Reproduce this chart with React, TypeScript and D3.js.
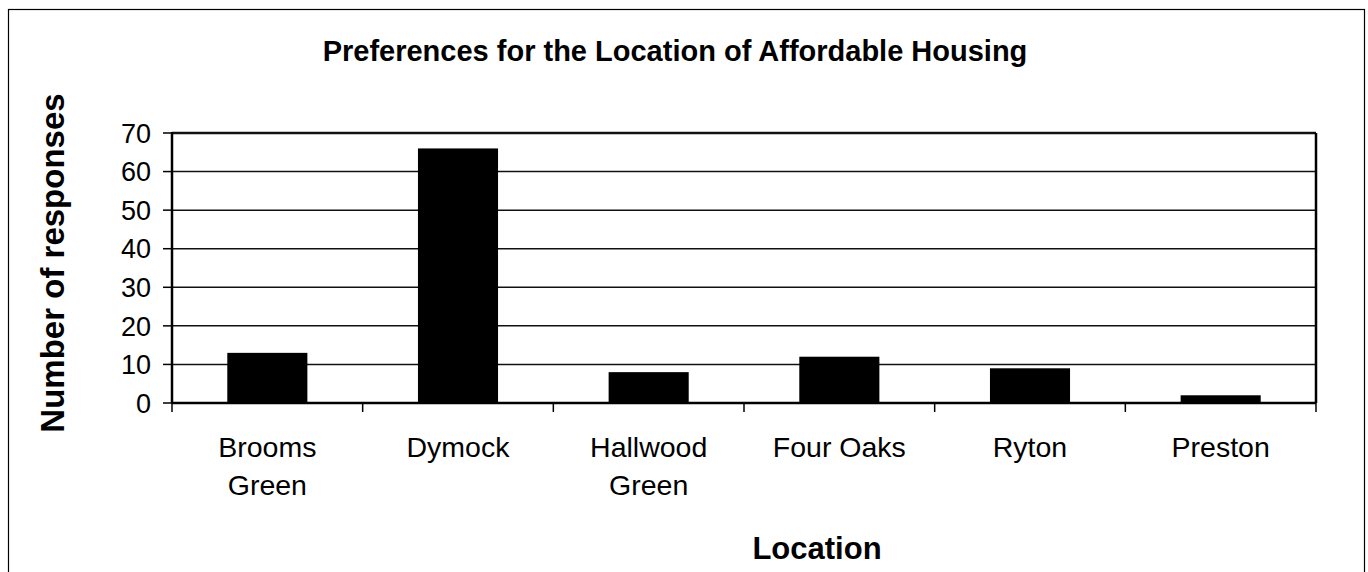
import React from "react";
import * as d3 from "d3";

const categories: string[][] = [
  ["Brooms", "Green"],
  ["Dymock"],
  ["Hallwood", "Green"],
  ["Four Oaks"],
  ["Ryton"],
  ["Preston"],
];
const values: number[] = [13, 66, 8, 12, 9, 2];
const yTicks: number[] = [0, 10, 20, 30, 40, 50, 60, 70];
const title = "Preferences for the Location of Affordable Housing";
const yTitle = "Number of responses";
const xTitle = "Location";

const W = 1368;
const H = 572;
const left = 172;
const right = 1316;
const top = 133;
const bottom = 403;
const FONT = "'Liberation Sans', Arial, Helvetica, sans-serif";

export default function App() {
  const x = d3
    .scaleBand<number>()
    .domain(d3.range(values.length))
    .range([left, right])
    .paddingInner(0.58)
    .paddingOuter(0.29);
  const band = d3.scaleBand<number>().domain(d3.range(values.length)).range([left, right]);
  const y = d3.scaleLinear().domain([0, 70]).range([bottom, top]);

  return (
    <svg
      width={W}
      height={H}
      style={{ position: "absolute", left: 0, top: 0, background: "#fff" }}
      fontFamily={FONT}
    >
      <rect x={8.5} y={9.5} width={1356} height={570} fill="#fff" stroke="#000" strokeWidth={1.2} />
      <text x={675} y={61} textAnchor="middle" fontWeight="bold" fontSize={29}>
        {title}
      </text>
      {yTicks.map((t) => (
        <g key={t}>
          {t > 0 && (
            <line x1={left} x2={right} y1={y(t)} y2={y(t)} stroke="#111" strokeWidth={t === 70 ? 2.5 : 1.5} />
          )}
          <line x1={left - 9} x2={left} y1={y(t)} y2={y(t)} stroke="#000" strokeWidth={1.5} />
          <text x={151} y={y(t)} dy="0.36em" textAnchor="end" fontSize={27}>
            {t}
          </text>
        </g>
      ))}
      {values.map((v, i) => (
        <rect key={i} x={x(i)} y={y(v)} width={x.bandwidth()} height={bottom - y(v)} fill="#000" />
      ))}
      <line x1={right} x2={right} y1={top} y2={bottom} stroke="#000" strokeWidth={2.5} />
      <line x1={left} x2={left} y1={top - 1} y2={bottom} stroke="#000" strokeWidth={2.5} />
      <line x1={left} x2={right} y1={bottom} y2={bottom} stroke="#000" strokeWidth={2.5} />
      {d3.range(values.length + 1).map((i) => {
        const xx = left + i * band.bandwidth();
        return <line key={i} x1={xx} x2={xx} y1={bottom} y2={bottom + 9} stroke="#000" strokeWidth={1.5} />;
      })}
      {categories.map((lines, i) => (
        <text key={i} x={(band(i) as number) + band.bandwidth() / 2} y={457} textAnchor="middle" fontSize={28.5}>
          {lines.map((l, j) => (
            <tspan key={j} x={(band(i) as number) + band.bandwidth() / 2} dy={j === 0 ? 0 : 38}>
              {l}
            </tspan>
          ))}
        </text>
      ))}
      <text
        transform={`translate(64,263) rotate(-90)`}
        textAnchor="middle"
        fontWeight="bold"
        fontSize={33}
      >
        {yTitle}
      </text>
      <text x={817} y={559} textAnchor="middle" fontWeight="bold" fontSize={31}>
        {xTitle}
      </text>
    </svg>
  );
}
